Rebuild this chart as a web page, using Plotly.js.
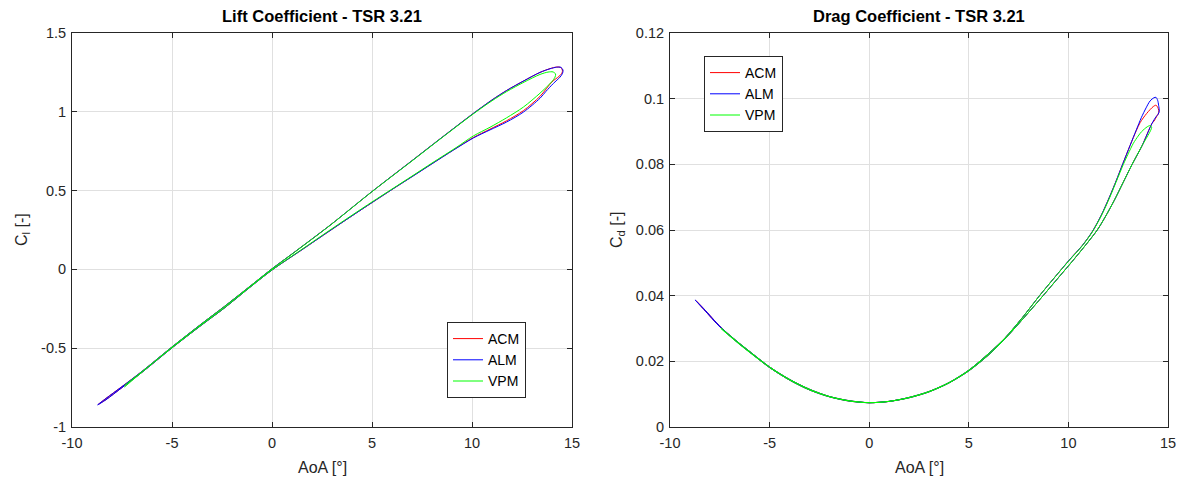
<!DOCTYPE html>
<html>
<head>
<meta charset="utf-8">
<script src="https://cdn.plot.ly/plotly-3.0.1.min.js"></script>
<style>
html,body{margin:0;padding:0;background:#fff;}
#chart{width:1185px;height:482px;}
</style>
</head>
<body>
<div id="chart"></div>
<script>
// ---------------- DATA ----------------
const seriesNames = ['ACM', 'ALM', 'VPM'];

const xTickVals = [-10, -5, 0, 5, 10, 15];
const xTickText = ['-10', '-5', '0', '5', '10', '15'];
const clTickVals = [-1, -0.5, 0, 0.5, 1, 1.5];
const clTickText = ['-1', '-0.5', '0', '0.5', '1', '1.5'];
const cdTickVals = [0, 0.02, 0.04, 0.06, 0.08, 0.1, 0.12];
const cdTickText = ['0', '0.02', '0.04', '0.06', '0.08', '0.1', '0.12'];

// Lift coefficient loops (AoA in deg, Cl)
const almLiftAoA = [-8.72,-8.3,-7.5,-6.5,-5,-3.5,-2.43,-1,0,1,2.9,5,7,8.4,10.07,11,11.73,12.6,13.4,13.9,14.23,14.45,14.55,14.53,14.4,14.07,13.7,13.4,12.57,11.73,10.9,10.07,9.07,8,7,6,5,4,2.9,1.5,0,-1,-2.43,-3.5,-5,-6.5,-7.5,-8.3,-8.72];
const almLiftCl  = [-0.860,-0.819,-0.744,-0.647,-0.492,-0.343,-0.240,-0.097,0.004,0.098,0.280,0.494,0.69,0.828,0.99,1.075,1.135,1.197,1.25,1.273,1.283,1.282,1.265,1.245,1.22,1.18,1.13,1.086,0.998,0.935,0.885,0.834,0.757,0.67,0.588,0.507,0.424,0.34,0.246,0.125,-0.004,-0.103,-0.250,-0.351,-0.498,-0.653,-0.750,-0.827,-0.860];

const acmLiftAoA = [-8.68,-8.3,-7.5,-6.5,-5,-3.5,-2.43,-1,0,1,2.9,5,7,8.4,10.07,11,11.73,12.6,13.4,13.9,14.23,14.42,14.52,14.5,14.35,14.0,13.4,12.57,11.73,10.9,10.07,9.07,8,7,6,5,4,2.9,1.5,0,-1,-2.43,-3.5,-5,-6.5,-7.5,-8.3,-8.68];
const acmLiftCl  = [-0.856,-0.818,-0.743,-0.647,-0.492,-0.343,-0.240,-0.097,0.004,0.098,0.280,0.494,0.69,0.828,0.99,1.075,1.135,1.197,1.25,1.274,1.284,1.282,1.265,1.247,1.225,1.19,1.098,1.007,0.943,0.89,0.837,0.758,0.671,0.589,0.507,0.424,0.34,0.246,0.125,-0.004,-0.103,-0.250,-0.351,-0.498,-0.653,-0.750,-0.826,-0.856];

const vpmLiftAoA = [-7.38,-6.5,-5,-3.5,-2.43,-1,0,1,2.9,5,7,8.4,10.07,11,11.73,12.6,13.4,13.8,14.05,14.18,14.15,13.98,13.4,12.57,11.73,10.9,10.07,9.23,8,7,6,5,4,2.9,1.5,0,-1,-2.43,-3.5,-5,-6.5,-7.38];
const vpmLiftCl  = [-0.737,-0.649,-0.493,-0.344,-0.241,-0.098,0.003,0.097,0.279,0.493,0.688,0.826,0.987,1.07,1.128,1.188,1.237,1.252,1.253,1.24,1.22,1.19,1.118,1.03,0.962,0.902,0.847,0.775,0.675,0.592,0.51,0.428,0.344,0.25,0.128,-0.003,-0.102,-0.249,-0.350,-0.497,-0.652,-0.747];

// Drag coefficient loops (AoA in deg, Cd)
const almDragAoA = [-8.74,-8.3,-7.45,-6.5,-6,-5,-4,-3,-2,-1,0,1,2,3,4,5,6,6.83,7.7,8.55,9.3,10.05,10.7,11.2,11.65,12.06,12.4,12.74,13.1,13.41,13.66,13.9,14.1,14.3,14.4,14.48,14.53,14.56,14.5,14.4,14.2,13.7,13.2,12.75,12.3,11.85,11.45,10.85,10.2,9.5,8.73,7.8,6.9,6,5,4,3,2,1,0,-1,-2,-3,-4,-5,-6,-6.5,-7.45,-8.3,-8.74];
const almDragCd  = [0.0387,0.0358,0.0302,0.0252,0.0228,0.0181,0.0143,0.0113,0.0092,0.0079,0.0074,0.0078,0.0090,0.0108,0.0135,0.0173,0.0224,0.0272,0.0334,0.0400,0.0455,0.0509,0.0553,0.0595,0.0645,0.0700,0.0750,0.0803,0.0858,0.0905,0.0942,0.0972,0.0993,0.1003,0.1004,0.0995,0.0980,0.0962,0.0952,0.0945,0.0925,0.0857,0.0800,0.0745,0.0690,0.0640,0.0600,0.0553,0.0505,0.0455,0.0400,0.0335,0.0274,0.0220,0.0171,0.0134,0.0107,0.0089,0.0078,0.0074,0.0080,0.0093,0.0115,0.0145,0.0183,0.0230,0.0254,0.0304,0.0360,0.0387];

const acmDragAoA = [-8.7,-8.3,-7.45,-6.5,-6,-5,-4,-3,-2,-1,0,1,2,3,4,5,6,6.83,7.7,8.55,9.3,10.05,10.7,11.2,11.65,12.06,12.4,12.74,13.1,13.41,13.6,13.93,14.26,14.4,14.51,14.54,14.45,14.3,14.2,13.7,13.2,12.75,12.3,11.85,11.45,10.85,10.2,9.5,8.73,7.8,6.9,6,5,4,3,2,1,0,-1,-2,-3,-4,-5,-6,-6.5,-7.45,-8.3,-8.7];
const acmDragCd  = [0.0385,0.0358,0.0302,0.0252,0.0228,0.0181,0.0143,0.0113,0.0092,0.0079,0.0074,0.0078,0.0090,0.0108,0.0135,0.0173,0.0224,0.0272,0.0334,0.0400,0.0455,0.0509,0.0553,0.0595,0.0645,0.0700,0.0750,0.0803,0.0858,0.0903,0.0927,0.0955,0.0976,0.0980,0.0970,0.0958,0.0948,0.0932,0.0925,0.0857,0.0800,0.0745,0.0690,0.0640,0.0600,0.0553,0.0505,0.0455,0.0400,0.0335,0.0274,0.0220,0.0171,0.0134,0.0107,0.0089,0.0078,0.0074,0.0080,0.0093,0.0115,0.0145,0.0183,0.0230,0.0254,0.0304,0.0360,0.0385];

const vpmDragAoA = [-7.45,-6.5,-6,-5,-4,-3,-2,-1,0,1,2,3,4,5,6,6.83,7.7,8.55,9.3,10.05,10.7,11.2,11.65,12.06,12.4,12.76,13.0,13.26,13.5,13.68,13.95,14.1,14.18,13.7,13.2,12.75,12.3,11.85,11.45,10.85,10.2,9.5,8.73,7.8,6.9,6,5,4,3,2,1,0,-1,-2,-3,-4,-5,-6,-6.5,-7.45];
const vpmDragCd  = [0.0300,0.0251,0.0227,0.0181,0.0143,0.0113,0.0092,0.0079,0.0074,0.0078,0.0090,0.0108,0.0135,0.0173,0.0224,0.0272,0.0334,0.0400,0.0455,0.0508,0.0552,0.0594,0.0643,0.0697,0.0747,0.0800,0.0832,0.0864,0.0886,0.0900,0.0914,0.0918,0.0913,0.0857,0.0800,0.0745,0.0690,0.0640,0.0600,0.0553,0.0505,0.0455,0.0400,0.0335,0.0274,0.0220,0.0171,0.0134,0.0107,0.0089,0.0078,0.0074,0.0080,0.0093,0.0115,0.0145,0.0183,0.0230,0.0254,0.0302];

// ---------------- STYLE ----------------
const colors = ['#ff0000', '#0000ff', '#00ff00'];
const W = 1185, H = 482;
const FONT = 'Liberation Sans, Arial, Helvetica, sans-serif';
const AX = '#262626';
const GRID = '#e0e0e0';

const px2x = p => p / W;
const px2y = p => 1 - p / H;

const lx0 = 72, lx1 = 572, rx0 = 670, rx1 = 1168, yTop = 33, yBot = 427;

const liftData = [[acmLiftAoA, acmLiftCl], [almLiftAoA, almLiftCl], [vpmLiftAoA, vpmLiftCl]];
const dragData = [[acmDragAoA, acmDragCd], [almDragAoA, almDragCd], [vpmDragAoA, vpmDragCd]];

const traces = [];
liftData.forEach((d, i) => traces.push({
  type: 'scatter', mode: 'lines', x: d[0], y: d[1], name: seriesNames[i],
  xaxis: 'x', yaxis: 'y', legend: 'legend',
  line: {color: colors[i], width: 1, shape: 'spline', smoothing: 0.8}
}));
dragData.forEach((d, i) => traces.push({
  type: 'scatter', mode: 'lines', x: d[0], y: d[1], name: seriesNames[i],
  xaxis: 'x2', yaxis: 'y2', legend: 'legend2',
  line: {color: colors[i], width: 1, shape: 'spline', smoothing: 0.8}
}));

function axisBase(extra) {
  return Object.assign({
    showline: true, linecolor: AX, linewidth: 1, mirror: 'ticks',
    ticks: 'inside', ticklen: 5, tickcolor: AX, tickwidth: 1,
    showgrid: true, gridcolor: GRID, gridwidth: 1,
    zeroline: false, tickmode: 'array',
    tickfont: {family: FONT, size: 14.5, color: AX},
    fixedrange: true
  }, extra);
}

const legendBase = {
  xanchor: 'left', yanchor: 'top', bgcolor: '#ffffff', bordercolor: AX, borderwidth: 1,
  font: {family: FONT, size: 14, color: '#000'}, traceorder: 'normal'
};

const layout = {
  width: W, height: H,
  margin: {l: 0, r: 0, t: 0, b: 0},
  paper_bgcolor: '#fff', plot_bgcolor: '#fff',
  showlegend: true,
  font: {family: FONT, color: AX},
  xaxis: axisBase({domain: [px2x(lx0), px2x(lx1)], range: [-10, 15], tickvals: xTickVals, ticktext: xTickText, anchor: 'y', ticklabelstandoff: 3}),
  yaxis: axisBase({domain: [px2y(yBot), px2y(yTop)], range: [-1, 1.5], tickvals: clTickVals, ticktext: clTickText, anchor: 'x', ticklabelstandoff: 2}),
  xaxis2: axisBase({domain: [px2x(rx0), px2x(rx1)], range: [-10, 15], tickvals: xTickVals, ticktext: xTickText, anchor: 'y2', ticklabelstandoff: 3}),
  yaxis2: axisBase({domain: [px2y(yBot), px2y(yTop)], range: [0, 0.12], tickvals: cdTickVals, ticktext: cdTickText, anchor: 'x2', ticklabelstandoff: 2}),
  legend: Object.assign({}, legendBase, {x: px2x(447), y: px2y(322)}),
  legend2: Object.assign({}, legendBase, {x: px2x(704), y: px2y(56)}),
  annotations: [
    {text: '<b>Lift Coefficient - TSR 3.21</b>', x: px2x((lx0 + lx1) / 2), y: px2y(16), xref: 'paper', yref: 'paper', showarrow: false, xanchor: 'center', yanchor: 'middle', font: {family: FONT, size: 16.5, color: '#000'}},
    {text: '<b>Drag Coefficient - TSR 3.21</b>', x: px2x((rx0 + rx1) / 2), y: px2y(16), xref: 'paper', yref: 'paper', showarrow: false, xanchor: 'center', yanchor: 'middle', font: {family: FONT, size: 16.5, color: '#000'}},
    {text: 'AoA [°]', x: px2x((lx0 + lx1) / 2), y: px2y(467), xref: 'paper', yref: 'paper', showarrow: false, xanchor: 'center', yanchor: 'middle', font: {family: FONT, size: 16, color: AX}},
    {text: 'AoA [°]', x: px2x((rx0 + rx1) / 2), y: px2y(467), xref: 'paper', yref: 'paper', showarrow: false, xanchor: 'center', yanchor: 'middle', font: {family: FONT, size: 16, color: AX}},
    {text: 'C<sub>l</sub> [-]', x: px2x(22), y: px2y(230), xref: 'paper', yref: 'paper', showarrow: false, xanchor: 'center', yanchor: 'middle', textangle: -90, font: {family: FONT, size: 16, color: AX}},
    {text: 'C<sub>d</sub> [-]', x: px2x(617), y: px2y(230), xref: 'paper', yref: 'paper', showarrow: false, xanchor: 'center', yanchor: 'middle', textangle: -90, font: {family: FONT, size: 16, color: AX}}
  ]
};

Plotly.newPlot('chart', traces, layout, {displayModeBar: false, staticPlot: true});
</script>
</body>
</html>
